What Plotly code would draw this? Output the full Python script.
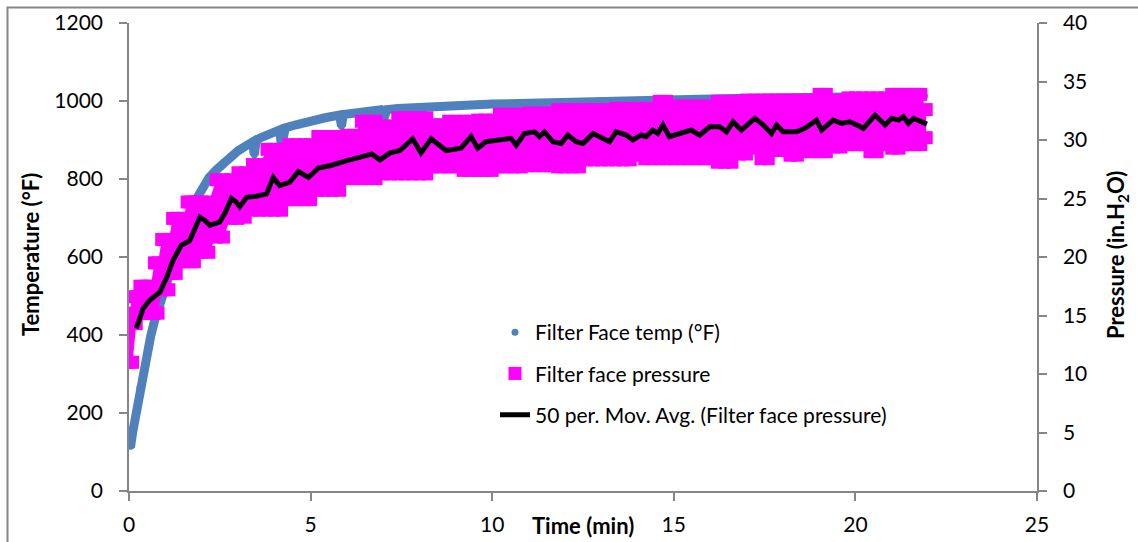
import plotly.graph_objects as go

# ---------------- data ----------------
temp_time = [0.00, 0.05, 0.10, 0.20, 0.30, 0.40, 0.50, 0.60, 0.70, 0.80,
             0.90, 1.00, 1.20, 1.40, 1.60, 1.80, 2.00, 2.20, 2.40, 2.60,
             2.80, 3.00, 3.20, 3.40, 3.45, 3.50, 3.60, 3.80, 4.00, 4.15,
             4.20, 4.25, 4.30, 4.60, 5.00, 5.40, 5.80, 5.85, 5.90, 6.40,
             6.90, 7.00, 7.10, 7.40, 8.00, 9.00, 10.00, 11.00, 12.00, 13.00,
             14.00, 15.00, 16.00, 17.00, 18.00, 19.00, 20.00, 21.00, 21.90]
temp_degF = [115, 118, 150, 205, 265, 310, 355, 398, 435, 465,
             495, 525, 590, 645, 695, 740, 775, 803, 823, 842,
             858, 872, 884, 895, 862, 897, 905, 913, 921, 926,
             880, 928, 931, 939, 950, 957, 964, 935, 965, 971,
             977, 950, 978, 981, 985, 988, 992, 995, 997, 999,
             1001, 1003, 1005, 1007, 1009, 1010, 1011, 1012, 1013]

press_time = [0.0, 0.1, 0.2, 0.3, 0.4, 0.5, 0.6, 0.7, 0.8, 0.9,
              1.0, 1.1, 1.2, 1.3, 1.4, 1.5, 1.6, 1.7, 1.8, 1.9,
              2.0, 2.2, 2.4, 2.6, 2.8, 3.0, 3.2, 3.4, 3.6, 3.8,
              4.0, 4.2, 4.4, 4.6, 4.8, 5.0, 5.2, 5.4, 5.6, 5.8,
              6.0, 6.2, 6.4, 6.6, 6.8, 7.0, 7.2, 7.4, 7.6, 7.8,
              8.0, 8.2, 8.4, 8.6, 8.8, 9.0, 9.2, 9.4, 9.6, 9.8,
              10.0, 10.2, 10.4, 10.6, 10.8, 11.0, 11.2, 11.4, 11.6, 11.8,
              12.0, 12.2, 12.4, 12.6, 12.8, 13.0, 13.2, 13.4, 13.6, 13.8,
              14.0, 14.2, 14.4, 14.6, 14.8, 15.0, 15.2, 15.4, 15.6, 15.8,
              16.0, 16.2, 16.4, 16.6, 16.8, 17.0, 17.2, 17.4, 17.6, 17.8,
              18.0, 18.2, 18.4, 18.6, 18.8, 19.0, 19.2, 19.4, 19.6, 19.8,
              20.0, 20.2, 20.4, 20.6, 20.8, 21.0, 21.2, 21.4, 21.6, 21.8,
              21.95]
# highest readings of the pressure scatter (in. H2O)
press_high = [15.2, 16.6, 16.6, 17.5, 17.5, 17.5, 17.5, 19.5, 19.5, 21.5,
              21.5, 21.5, 23.3, 23.3, 23.3, 23.3, 24.7, 24.7, 24.7, 24.7,
              24.7, 24.7, 26.6, 26.6, 26.6, 27.2, 27.2, 27.9, 27.9, 29.2,
              29.2, 29.2, 29.6, 29.6, 29.6, 29.6, 30.3, 30.3, 30.3, 30.3,
              30.4, 30.4, 31.6, 31.6, 31.6, 31.2, 31.2, 31.9, 31.9, 31.9,
              31.9, 31.9, 31.3, 31.3, 31.6, 31.6, 31.6, 31.6, 31.7, 31.7,
              31.7, 32.2, 32.2, 32.2, 32.2, 32.3, 32.3, 32.3, 32.3, 32.6,
              32.6, 32.6, 32.6, 32.6, 32.6, 32.6, 32.6, 32.7, 32.7, 32.7,
              32.7, 32.7, 32.7, 33.3, 33.3, 32.9, 32.9, 32.9, 32.9, 32.9,
              32.9, 33.3, 33.3, 33.3, 33.3, 33.4, 33.4, 33.4, 33.4, 33.4,
              33.4, 33.4, 33.4, 33.4, 33.4, 33.9, 33.9, 33.4, 33.4, 33.6,
              33.6, 33.6, 33.6, 33.6, 33.6, 33.9, 33.9, 33.9, 33.9, 33.9,
              32.6]
# lowest readings of the pressure scatter (in. H2O)
press_low = [11.0, 11.0, 14.3, 15.2, 15.2, 15.2, 15.2, 15.2, 15.2, 17.2,
             17.2, 17.2, 18.6, 18.6, 19.6, 19.6, 19.6, 19.6, 19.6, 20.4,
             20.4, 20.4, 21.7, 21.7, 23.3, 23.3, 23.4, 24.0, 24.0, 24.0,
             24.0, 24.0, 24.9, 24.9, 24.9, 24.9, 25.7, 25.7, 25.7, 25.7,
             26.7, 26.7, 26.7, 26.7, 26.7, 27.1, 27.1, 27.1, 27.1, 27.1,
             27.1, 27.1, 27.7, 27.7, 27.7, 27.7, 27.4, 27.4, 27.4, 27.4,
             27.4, 27.7, 27.7, 27.7, 27.7, 27.8, 27.8, 27.8, 27.8, 27.7,
             27.7, 27.7, 27.7, 28.3, 28.3, 28.3, 28.3, 28.3, 28.3, 28.3,
             28.7, 28.4, 28.4, 28.4, 28.4, 28.4, 28.4, 28.4, 28.4, 28.4,
             28.4, 28.1, 28.1, 28.1, 28.8, 28.8, 29.3, 28.4, 28.4, 29.1,
             29.1, 28.7, 28.7, 29.0, 29.0, 29.0, 29.0, 29.4, 29.4, 29.6,
             29.6, 29.6, 29.0, 29.0, 29.6, 29.3, 29.3, 29.6, 29.6, 29.6,
             30.2]

mavg_time = [0.20, 0.39, 0.57, 0.85, 1.03, 1.21, 1.44, 1.67, 1.80, 1.95,
             2.10, 2.23, 2.50, 2.65, 2.82, 2.95, 3.05, 3.24, 3.50, 3.79,
             3.97, 4.15, 4.43, 4.66, 4.94, 5.21, 5.53, 5.81, 6.08, 6.45,
             6.68, 6.91, 7.19, 7.46, 7.81, 8.04, 8.32, 8.73, 9.14, 9.42,
             9.60, 9.83, 10.38, 10.52, 10.66, 10.89, 11.17, 11.30, 11.44, 11.67,
             11.90, 12.08, 12.31, 12.50, 12.78, 13.05, 13.23, 13.41, 13.69, 13.87,
             14.10, 14.24, 14.42, 14.56, 14.70, 14.88, 15.16, 15.48, 15.71, 15.99,
             16.26, 16.45, 16.63, 16.86, 17.23, 17.46, 17.69, 17.83, 18.01, 18.38,
             18.61, 18.93, 19.07, 19.39, 19.62, 19.85, 20.04, 20.22, 20.54, 20.82,
             21.00, 21.19, 21.32, 21.46, 21.60, 21.78, 21.97]
mavg_press = [13.9, 15.6, 16.3, 17.0, 18.2, 19.7, 21.0, 21.4, 22.3, 23.4,
              23.1, 22.7, 23.0, 23.8, 25.0, 24.7, 24.3, 25.1, 25.2, 25.4,
              26.8, 26.1, 26.4, 27.3, 26.8, 27.6, 27.8, 28.0, 28.3, 28.6,
              28.8, 28.3, 28.9, 29.1, 30.1, 28.9, 30.1, 29.1, 29.3, 30.3,
              29.3, 29.85, 30.0, 30.14, 29.56, 30.56, 30.7, 30.28, 30.7, 29.85,
              29.71, 30.42, 29.85, 29.71, 30.56, 30.14, 29.85, 30.7, 30.42, 30.0,
              30.42, 30.28, 30.85, 30.56, 31.28, 30.28, 30.56, 30.85, 30.42, 31.13,
              31.13, 30.7, 31.56, 30.85, 31.85, 31.3, 30.56, 31.28, 30.7, 30.7,
              31.0, 31.7, 30.85, 31.7, 31.42, 31.56, 31.28, 31.0, 32.13, 31.28,
              31.85, 31.7, 31.99, 31.42, 31.85, 31.56, 31.36]

x_ticks = [0, 5, 10, 15, 20, 25]
temp_ticks = [0, 200, 400, 600, 800, 1000, 1200]
press_ticks = [0, 5, 10, 15, 20, 25, 30, 35, 40]

# ---------------- styling ----------------
BLUE = "#4F81BD"
MAGENTA = "#FF00FF"
GRAY = "#868686"
FONT = "Lato"

fig = go.Figure()

# temperature: dense dots -> thick band + dots
fig.add_trace(go.Scatter(x=temp_time, y=temp_degF, mode="lines",
                         line=dict(color=BLUE, width=9), showlegend=False,
                         hoverinfo="skip"))
fig.add_trace(go.Scatter(x=temp_time, y=temp_degF, mode="markers",
                         marker=dict(color=BLUE, size=7, symbol="circle"),
                         name="Filter Face temp (°F)", legendgroup="a",
                         legendrank=1))

# pressure: scatter band between low and high readings (polygon fill)
band_x = list(press_time) + list(reversed(press_time))
band_y = list(press_high) + list(reversed(press_low))
fig.add_trace(go.Scatter(x=band_x, y=band_y, yaxis="y2", mode="lines",
                         line=dict(width=0, color=MAGENTA), fill="toself",
                         fillcolor=MAGENTA, showlegend=False,
                         hoverinfo="skip"))
fig.add_trace(go.Scatter(x=press_time, y=press_low, yaxis="y2", mode="markers",
                         marker=dict(color=MAGENTA, size=13, symbol="square"),
                         showlegend=False))
fig.add_trace(go.Scatter(x=press_time, y=press_high, yaxis="y2", mode="markers",
                         marker=dict(color=MAGENTA, size=13, symbol="square"),
                         name="Filter face pressure", legendgroup="b",
                         legendrank=2))

# moving average line
fig.add_trace(go.Scatter(x=mavg_time, y=mavg_press, yaxis="y2", mode="lines",
                         line=dict(color="black", width=5),
                         name="50 per. Mov. Avg. (Filter face pressure)",
                         legendgroup="c", legendrank=3))

L, R, T, B = 129, 101, 23, 51
W, H = 1138, 542
pw = W - L - R
ph = H - T - B

def px_x(p):
    return (p - L) / pw

def px_y(p):
    return (H - B - p) / ph

axis_common = dict(showgrid=False, zeroline=False, showline=True,
                   linecolor=GRAY, linewidth=1.5, ticks="outside",
                   ticklen=8, tickwidth=1.5, tickcolor=GRAY, automargin=False,
                   tickfont=dict(family=FONT, size=21, color="black"))

fig.update_layout(
    width=W, height=H,
    margin=dict(l=L, r=R, t=T, b=B, pad=0, autoexpand=False),
    paper_bgcolor="white", plot_bgcolor="white",
    font=dict(family=FONT, color="black"),
    xaxis=dict(range=[0, 25], tickvals=x_ticks, ticklabelstandoff=6,
               **axis_common),
    yaxis=dict(range=[0, 1200], tickvals=temp_ticks, ticklabelstandoff=12,
               **axis_common),
    yaxis2=dict(range=[0, 40], tickvals=press_ticks, overlaying="y",
                side="right", ticklabelstandoff=12, **axis_common),
    legend=dict(x=px_x(495), y=px_y(312), xanchor="left", yanchor="top",
                bgcolor="rgba(0,0,0,0)", font=dict(family=FONT, size=21),
                tracegroupgap=11, traceorder="grouped"),
    annotations=[
        dict(text="<b>Temperature (°F)</b>", textangle=-90, showarrow=False,
             xref="paper", yref="paper", x=px_x(30), y=px_y(255),
             xanchor="center", yanchor="middle",
             font=dict(family=FONT, size=22)),
        dict(text="<b>Pressure (in.H<sub>2</sub>O)</b>", textangle=-90,
             showarrow=False, xref="paper", yref="paper", x=px_x(1117),
             y=px_y(255), xanchor="center", yanchor="middle",
             font=dict(family=FONT, size=22)),
        dict(text="<b>Time (min)</b>", showarrow=False, xref="paper",
             yref="paper", x=px_x(583), y=px_y(525), xanchor="center",
             yanchor="middle", font=dict(family=FONT, size=22)),
    ],
    shapes=[dict(type="rect", xref="paper", yref="paper",
                 x0=px_x(7.5), x1=px_x(1160), y0=px_y(560), y1=px_y(7.5),
                 line=dict(color=GRAY, width=2), fillcolor="rgba(0,0,0,0)",
                 layer="below")],
)

fig.write_html("out.html")
